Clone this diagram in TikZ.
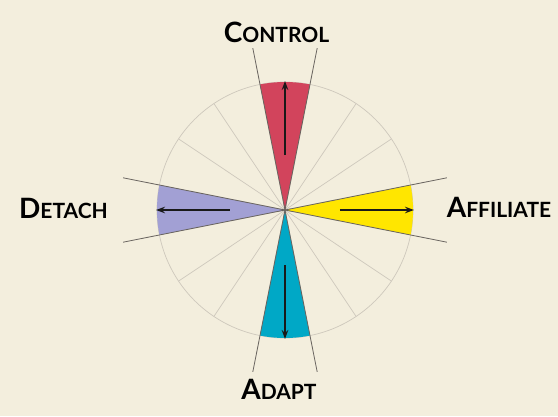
\documentclass[tikz,border=0pt]{standalone}
\usepackage{fontspec}
\setmainfont{Lato}
\usetikzlibrary{arrows.meta}
\definecolor{paper}{RGB}{243,238,221}
\definecolor{ctrlred}{RGB}{210,68,92}
\definecolor{affyellow}{RGB}{255,230,0}
\definecolor{adaptblue}{RGB}{0,168,198}
\definecolor{detachlav}{RGB}{162,160,212}
\definecolor{spokegrey}{RGB}{206,200,188}
\definecolor{edgegrey}{RGB}{105,100,95}
\newcommand{\capsc}[2]{{\fontsize{28}{28}\selectfont #1}{\fontsize{21}{21}\selectfont #2}}
\tikzset{
  label/.style={font=\bfseries, anchor=base, inner sep=0pt},
  spoke/.style={draw=spokegrey, line width=0.7pt},
  wedgeedge/.style={draw=edgegrey, line width=0.8pt},
  dirarrow/.style={draw=black!90, line width=1.6pt, -{Stealth[length=9pt,width=6.5pt]}}
}
\begin{document}
\begin{tikzpicture}[x=1pt,y=1pt]
\useasboundingbox[fill=paper] (-285,-206) rectangle (273,210);
\coordinate (o) at (0,0);

% rim and spokes
\foreach \a in {11.25,33.75,...,350} \draw[spoke] (o) -- (\a:128);
\draw[spoke] (o) circle (128);

% the four wedges
\fill[ctrlred] (o) -- (78.75:128) arc (78.75:101.25:128) -- cycle;
\fill[detachlav] (o) -- (168.75:128) arc (168.75:191.25:128) -- cycle;
\fill[adaptblue] (o) -- (258.75:128) arc (258.75:281.25:128) -- cycle;
\fill[affyellow] (o) -- (-11.25:128) arc (-11.25:11.25:128) -- cycle;

\foreach \a in {78.75,101.25,168.75,191.25,258.75,281.25,348.75,11.25}
  \draw[wedgeedge] (o) -- (\a:165);

% arrows
\foreach \n/\a in {ctrl/90,detach/180,adapt/270,aff/0} {
  \coordinate (\n s) at (\a:55);
  \coordinate (\n e) at (\a:129);
  \draw[dirarrow] (\n s) -- (\n e);
}

\node[label] (control) at (-8.5,168) {\capsc{C}{ONTROL}};
\node[label] (detach) at (-221.5,-8) {\capsc{D}{ETACH}};
\node[label] (affiliate) at (214,-7) {\capsc{A}{FFILIATE}};
\node[label] (adapt) at (-6,-189) {\capsc{A}{DAPT}};
\end{tikzpicture}
\end{document}
